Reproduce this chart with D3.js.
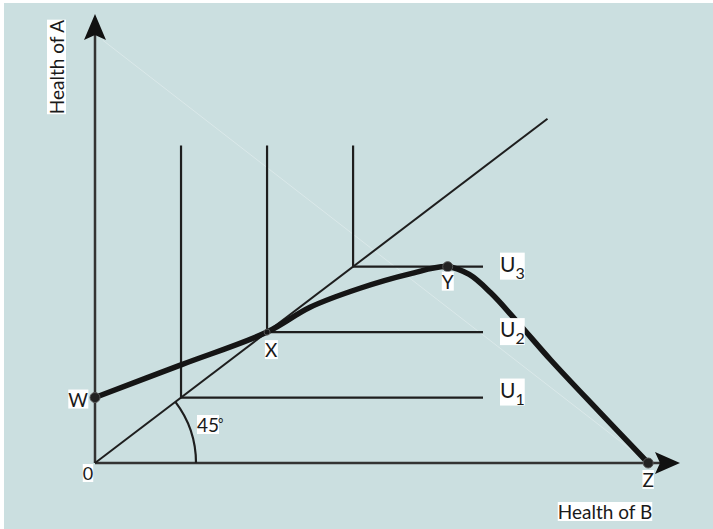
<!DOCTYPE html>
<html>
<head>
<meta charset="utf-8">
<script src="https://cdn.jsdelivr.net/npm/d3@7"></script>
<style>
  body { margin: 0; background: #fff; }
  svg text { font-family: "Lato", "Liberation Sans", sans-serif; fill: #1a1a1a; }
</style>
</head>
<body>
<div id="chart"></div>
<script>
// Health of B (x) and Health of A (y), in arbitrary units where the 45° line is A = B
const frontierB = [0, 1, 2, 2.5, 3.08, 3.66, 4.1, 4.35, 4.6, 4.9, 5.3, 5.85, 6.43];
const frontierA = [1, 1.5, 2, 2.38, 2.67, 2.89, 3, 2.88, 2.6, 2.17, 1.57, 0.8, 0];

// Leontief (L-shaped) indifference curves, corners on the 45° line
const curveNames = ['U1', 'U2', 'U3'];
const curveCorners = [1, 2, 3];
const curveTop = 4.85;
const curveRight = 4.51;
const diagonalEnd = 5.26;

const pointNames = ['W', 'X', 'Y', 'Z'];
const pointB = [0, 2, 4.1, 6.43];
const pointA = [1, 2, 3, 0];

const xMax = 6.8, yMax = 6.86;

const width = 713, height = 529;
const origin = {x: 95, y: 463};

const svg = d3.select('#chart').append('svg')
    .attr('width', width)
    .attr('height', height);

svg.append('rect')
    .attr('x', 4).attr('y', 3)
    .attr('width', width - 4).attr('height', height - 3)
    .attr('fill', '#cbdfe0');

const xScale = d3.scaleLinear().domain([0, xMax]).range([origin.x, 680]);
const yScale = d3.scaleLinear().domain([0, yMax]).range([origin.y, 14]);

const ink = '#1e1e1e';

// faint construction line from the top of the A axis to Z
svg.append('line')
    .attr('x1', xScale(0.09)).attr('y1', yScale(6.46))
    .attr('x2', xScale(pointB[3])).attr('y2', yScale(0))
    .attr('stroke', '#fff').attr('stroke-opacity', 0.3).attr('stroke-width', 1);

// axes
svg.append('line')
    .attr('x1', xScale(0)).attr('y1', yScale(0))
    .attr('x2', xScale(0)).attr('y2', yScale(yMax) + 20)
    .attr('stroke', '#333').attr('stroke-width', 2.5);
svg.append('line')
    .attr('x1', xScale(0)).attr('y1', yScale(0))
    .attr('x2', xScale(xMax) - 20).attr('y2', yScale(0))
    .attr('stroke', '#333').attr('stroke-width', 2.5);

// arrow heads
const yt = {x: xScale(0), y: yScale(yMax)};
svg.append('path')
    .attr('d', `M${yt.x},${yt.y} L${yt.x + 11},${yt.y + 26} L${yt.x},${yt.y + 21} L${yt.x - 11},${yt.y + 26} Z`)
    .attr('fill', '#111');
const xt = {x: xScale(xMax), y: yScale(0)};
svg.append('path')
    .attr('d', `M${xt.x},${xt.y} L${xt.x - 25},${xt.y - 11} L${xt.x - 20},${xt.y} L${xt.x - 25},${xt.y + 11} Z`)
    .attr('fill', '#111');

// 45° line
svg.append('line')
    .attr('x1', xScale(0)).attr('y1', yScale(0))
    .attr('x2', xScale(diagonalEnd)).attr('y2', yScale(diagonalEnd))
    .attr('stroke', ink).attr('stroke-width', 2);

// 45° arc
const r = 101;
const ang = Math.atan2(yScale(0) - yScale(1), xScale(1) - xScale(0));
svg.append('path')
    .attr('d', `M${origin.x + r},${origin.y} A${r},${r} 0 0 0 ${origin.x + r * Math.cos(ang)},${origin.y - r * Math.sin(ang)}`)
    .attr('fill', 'none').attr('stroke', ink).attr('stroke-width', 2.2);

// indifference curves
const ic = svg.append('g').attr('class', 'indifference');
curveCorners.forEach((c, i) => {
  ic.append('path')
      .attr('d', `M${xScale(c)},${yScale(curveTop)} L${xScale(c)},${yScale(c)} L${xScale(curveRight)},${yScale(c)}`)
      .attr('fill', 'none').attr('stroke', ink).attr('stroke-width', 2.2);
});

// frontier
const frontier = frontierB.map((b, i) => [b, frontierA[i]]);
svg.append('path')
    .datum(frontier)
    .attr('d', d3.line()
        .x(d => xScale(d[0]))
        .y(d => yScale(d[1]))
        .curve(d3.curveCatmullRom.alpha(0.5)))
    .attr('fill', 'none').attr('stroke', '#151515').attr('stroke-width', 5.5)
    .attr('stroke-linecap', 'round');

// points
pointNames.forEach((n, i) => {
  svg.append('circle')
      .attr('cx', xScale(pointB[i])).attr('cy', yScale(pointA[i]))
      .attr('r', n === 'X' ? 3 : 5)
      .attr('fill', n === 'X' ? 'none' : '#222')
      .attr('stroke', '#555').attr('stroke-width', 1);
});

// labels with white boxes behind
function label(text, x, y, opts = {}) {
  const g = svg.append('g');
  if (opts.rotate) g.attr('transform', `translate(${x},${y}) rotate(-90)`);
  else g.attr('transform', `translate(${x},${y})`);
  const size = opts.size || 18;
  const t = g.append('text')
      .attr('text-anchor', opts.anchor || 'start')
      .style('font-size', size + 'px');
  t.append('tspan').text(text);
  if (opts.sub) {
    t.append('tspan').attr('dy', 7).style('font-size', opts.subSize + 'px').text(opts.sub);
  }
  const bb = t.node().getBBox();
  g.insert('rect', 'text')
      .attr('x', bb.x).attr('y', bb.y + 2)
      .attr('width', bb.width).attr('height', bb.height - 4)
      .attr('fill', '#fff');
  return g;
}

const offs = {W: [-7, 9, 'end'], X: [4, 25, 'middle'], Y: [0, 22, 'middle'], Z: [0, 24, 'middle']};
pointNames.forEach((n, i) => {
  const o = offs[n];
  label(n, xScale(pointB[i]) + o[0], yScale(pointA[i]) + o[1], {anchor: o[2], size: 19});
});
label('0', origin.x - 7, origin.y + 17, {anchor: 'middle', size: 18});
label('45', 197, 432, {size: 19});
svg.append('text').attr('x', 218).attr('y', 428).style('font-size', '13px').text('°');

curveCorners.forEach((c, i) => {
  label('U', 500, yScale(c) + (i === 0 ? 0 : 5), {size: 21, sub: String(i + 1), subSize: 16});
});

label('Health of A', 64, 67, {rotate: true, anchor: 'middle', size: 19});
label('Health of B', 605, 519, {anchor: 'middle', size: 19});
</script>
</body>
</html>
